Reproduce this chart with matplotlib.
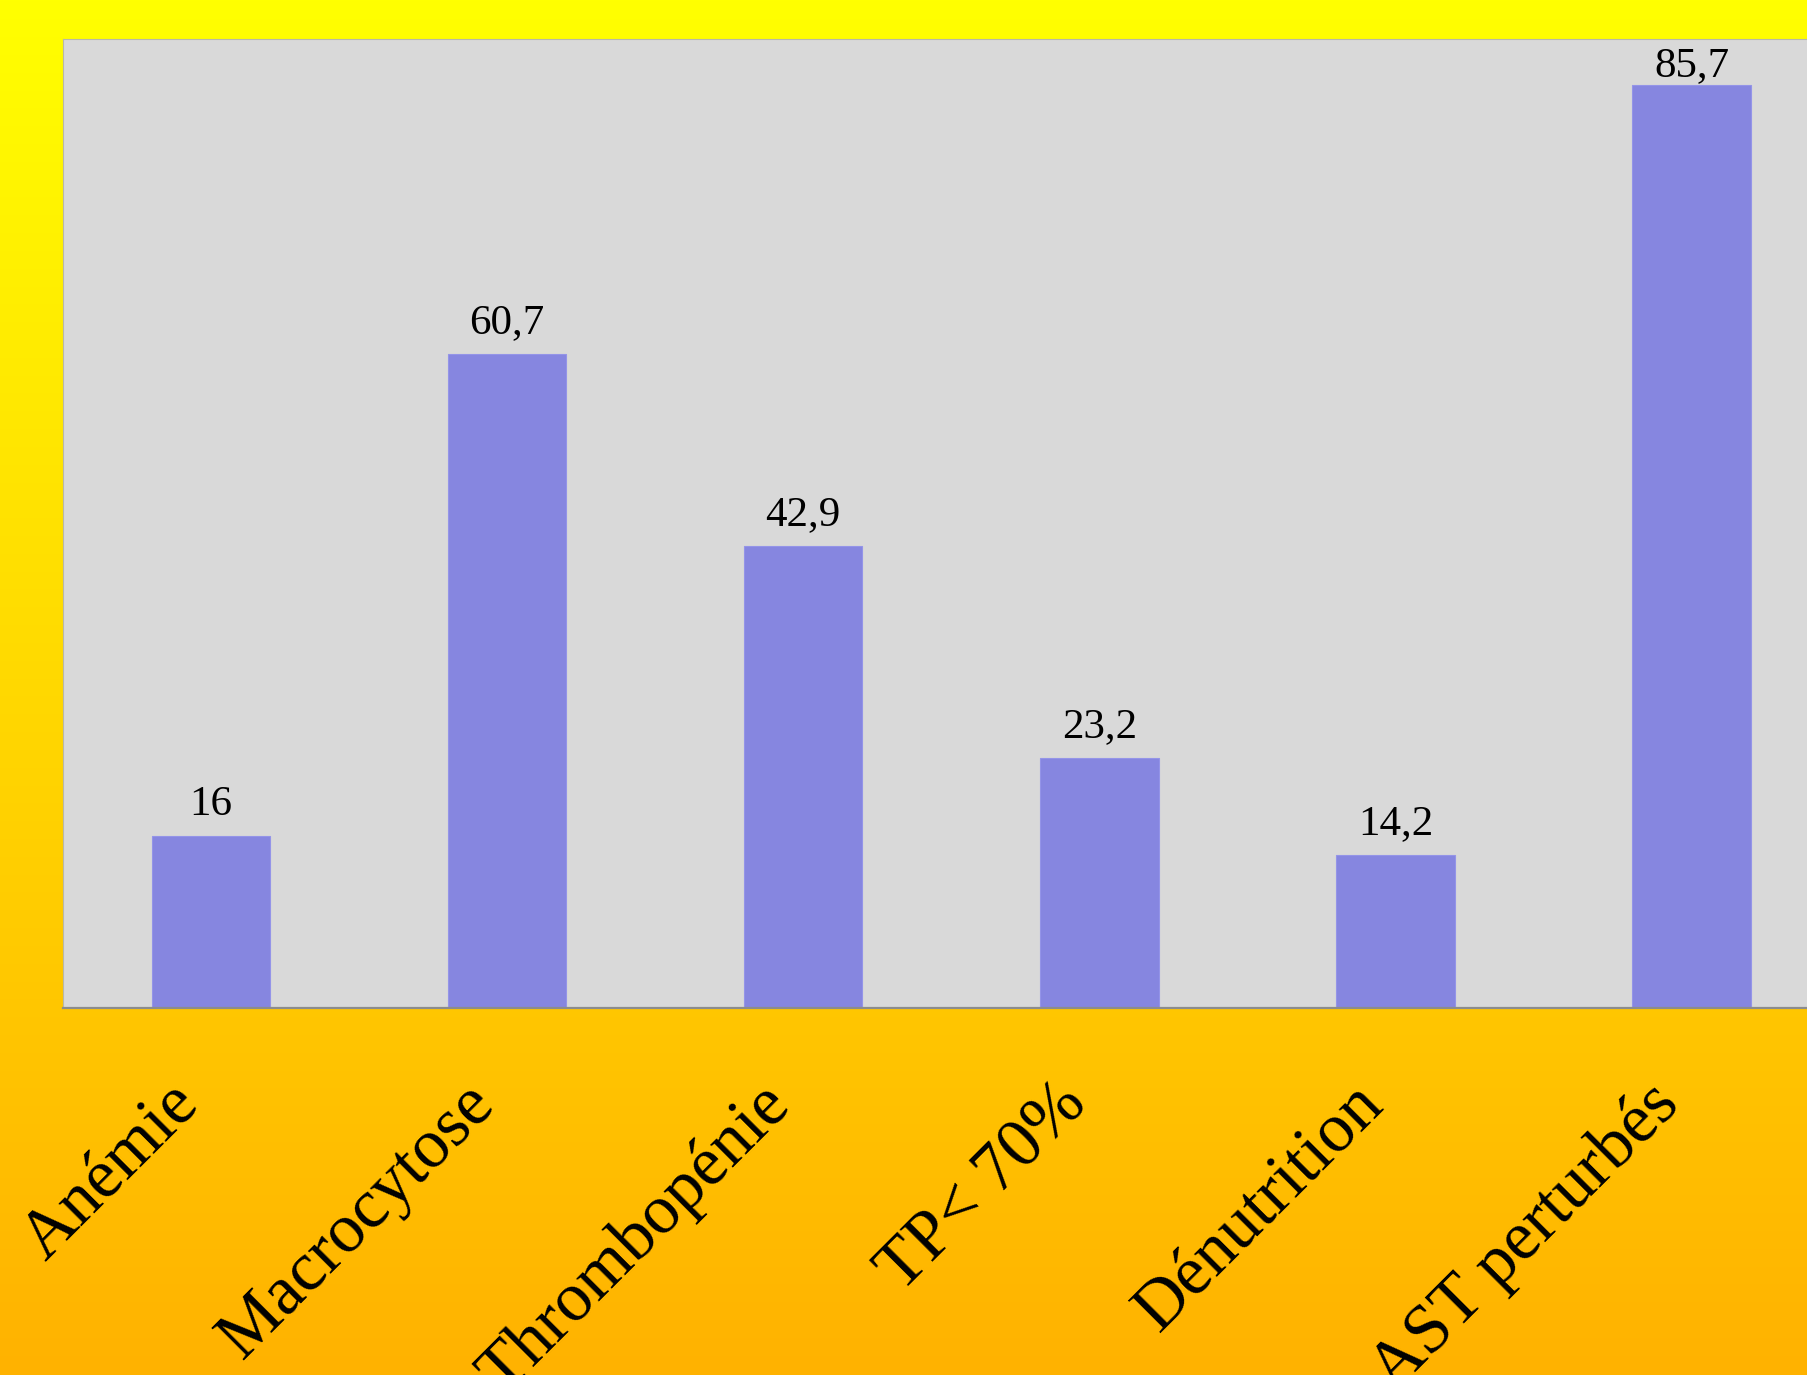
import numpy as np
import matplotlib
matplotlib.use("Agg")
import matplotlib.pyplot as plt

categories = ["Anémie", "Macrocytose", "Thrombopénie", "TP< 70%", "Dénutrition", "AST perturbés"]
values = [16, 60.7, 42.9, 23.2, 14.2, 85.7]
value_labels = ["16", "60,7", "42,9", "23,2", "14,2", "85,7"]

W, H, DPI = 1808, 1375, 100
fig = plt.figure(figsize=(W / DPI, H / DPI), dpi=DPI)

# gradient background
bg = fig.add_axes([0, 0, 1, 1], zorder=-10)
grad = np.linspace(0, 1, 512)[:, None]
top = np.array([255, 255, 0]) / 255.0
bot = np.array([255, 178, 0]) / 255.0
img = top[None, None, :] * (1 - grad[..., None]) + bot[None, None, :] * grad[..., None]
img = np.repeat(img, 2, axis=1)
bg.imshow(img, aspect="auto", extent=[0, 1, 0, 1], origin="upper")
bg.set_axis_off()

# main axes (right edge extends past the figure, as in the reference)
left_px, top_px, bottom_px = 63, 39, 1008
cat_w = 296.1
right_px = left_px + len(categories) * cat_w
ax = fig.add_axes([left_px / W, 1 - bottom_px / H, (right_px - left_px) / W, (bottom_px - top_px) / H])
ax.set_facecolor("#D9D9D9")

x = np.arange(len(categories))
ax.bar(x, values, width=0.4, color="#8686E0", edgecolor="#9494E8", linewidth=0.8, zorder=2)
ax.set_xlim(-0.5, len(categories) - 0.5)
ymax = 90
ax.set_ylim(0, ymax)

for xi, v, lab in zip(x, values, value_labels):
    y = min(v + 2.9, ymax - 2.5)
    ax.text(xi, y, lab, ha="center", va="center", fontsize=31,
            family="Liberation Serif", color="black", zorder=3)

ax.set_yticks([])
ax.set_xticks(x)
ax.set_xticklabels(categories, rotation=45, ha="right", va="top",
                   fontsize=50, family="Liberation Serif")
ax.tick_params(axis="x", length=0, pad=46)

for s in ["top", "left", "right"]:
    ax.spines[s].set_color("#B8B8A8")
    ax.spines[s].set_linewidth(0.8)
ax.spines["bottom"].set_color("#8C8C8C")
ax.spines["bottom"].set_linewidth(1.6)

fig.savefig("out.png", dpi=DPI)
